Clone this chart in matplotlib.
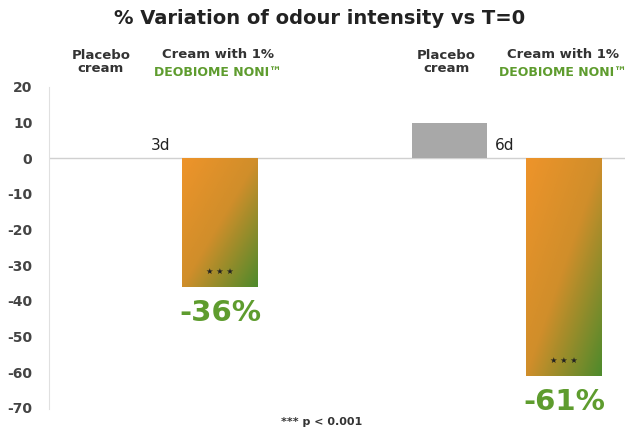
import matplotlib
matplotlib.use("Agg")
import matplotlib.pyplot as plt
import numpy as np
from matplotlib.colors import LinearSegmentedColormap

groups = ["3d", "6d"]
placebo = [0, 10]
cream = [-36, -61]
pct_labels = ["-36%", "-61%"]
yticks = [20, 10, 0, -10, -20, -30, -40, -50, -60, -70]

fig = plt.figure(figsize=(6.39, 4.34), dpi=100)
ax = fig.add_axes([49/639, 1-409/434, (625-49)/639, (409-87)/434])
ax.set_xlim(-0.49, 4.53)
ax.set_ylim(-70.3, 20)

cmap = LinearSegmentedColormap.from_list("og", ["#EE942A", "#D08E2A", "#4E8A2C"])
w = 0.66
grad = np.add.outer(np.linspace(0, 1, 100), np.linspace(0, 1, 100)) / 2

for i, g in enumerate(groups):
    xp = i * 3
    xc = i * 3 + 1
    ax.bar(xp, placebo[i], width=w, color="#a8a8a8", zorder=2)
    bc = ax.bar(xc, cream[i], width=w, color="none", zorder=2)
    rect = bc[0]
    x0 = rect.get_x(); x1 = x0 + rect.get_width()
    y1 = rect.get_y(); y0 = y1 + rect.get_height()
    im = ax.imshow(grad, cmap=cmap, extent=[x0, x1, y0, y1], origin="upper",
                   aspect="auto", zorder=2)
    im.set_clip_path(rect)
    ax.text(xc, cream[i] + 4.3, "★ ★ ★", ha="center", va="center", fontsize=6,
            color="#222222", zorder=3)
    ax.text(xc, cream[i] - 7.3, pct_labels[i], ha="center", va="center",
            fontsize=21, fontweight="bold", color="#5E9C2E", zorder=3)
    ax.text(i * 3 + 0.48, 3.7, g, ha="center", va="center", fontsize=11,
            color="#222222", zorder=3)

ax.axhline(0, color="#d0d0d0", lw=1, zorder=1)
ax.set_xlim(-0.49, 4.53)
ax.set_ylim(-70.3, 20)
for s in ["top", "right", "bottom"]:
    ax.spines[s].set_visible(False)
ax.spines["left"].set_color("#e0e0e0")
ax.set_xticks([])
ax.set_yticks(yticks)
ax.set_yticklabels([str(t) for t in yticks], fontsize=10, fontweight="bold", color="#444444")
ax.tick_params(axis="y", length=0, pad=12)

fig.text(320/639, 1-18/434, "% Variation of odour intensity vs T=0", ha="center",
         va="center", fontsize=14, fontweight="bold", color="#222222")
for cx in [101, 446]:
    fig.text(cx/639, 1-62/434, "Placebo\ncream", ha="center", va="center",
             fontsize=9.5, fontweight="bold", color="#333333", linespacing=1.0)
for cx in [218, 563]:
    fig.text(cx/639, 1-55/434, "Cream with 1%", ha="center", va="center",
             fontsize=9.5, fontweight="bold", color="#333333")
    fig.text(cx/639, 1-72/434, "DEOBIOME NONI™", ha="center", va="center",
             fontsize=9, fontweight="bold", color="#5E9C2E")
fig.text(322/639, 1-422/434, "*** p < 0.001", ha="center", va="center",
         fontsize=8, fontweight="bold", color="#333333")

fig.savefig("out.png", dpi=100)
